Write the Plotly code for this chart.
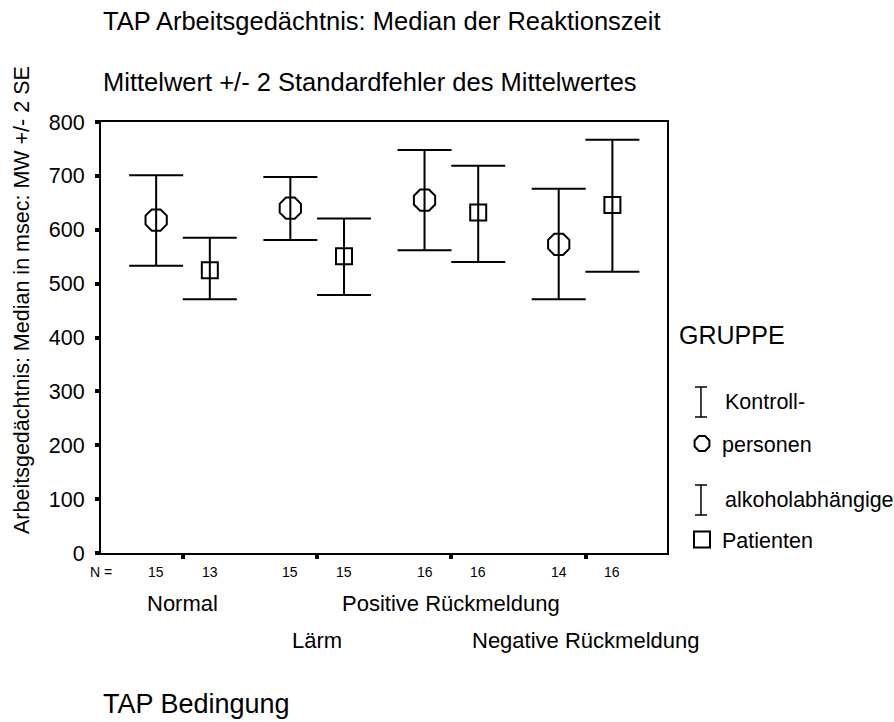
import plotly.graph_objects as go

# ---------------- data ----------------
categories = ["Normal", "Lärm", "Positive Rückmeldung", "Negative Rückmeldung"]
label_row = [1, 2, 1, 2]          # SPSS staggers the category labels

kontroll_mean = [618, 640, 655, 573]
kontroll_upper = [701, 698, 748, 676]
kontroll_lower = [533, 581, 562, 471]
n_kontroll = [15, 15, 16, 14]

patient_mean = [525, 551, 632, 646]
patient_upper = [585, 621, 719, 767]
patient_lower = [471, 479, 540, 522]
n_patient = [13, 15, 16, 16]

y_ticks = [0, 100, 200, 300, 400, 500, 600, 700, 800]

# ---------------- helpers ----------------
idx = list(range(len(categories)))
off = 0.2
xk = [i - off for i in idx]
xp = [i + off for i in idx]

FONT = "Liberation Sans, Arial, sans-serif"
BLACK = "black"


def err(upper, mean, lower):
    return dict(type="data", symmetric=False,
                array=[u - m for u, m in zip(upper, mean)],
                arrayminus=[m - l for m, l in zip(mean, lower)],
                color=BLACK, thickness=2, width=27)


fig = go.Figure()
fig.add_trace(go.Scatter(
    x=xk, y=kontroll_mean, mode="markers", name="personen", legendgroup="k",
    marker=dict(symbol="octagon-open", size=23, color=BLACK, line=dict(width=2, color=BLACK)),
    error_y=err(kontroll_upper, kontroll_mean, kontroll_lower)))
fig.add_trace(go.Scatter(
    x=xp, y=patient_mean, mode="markers", name="Patienten", legendgroup="p",
    marker=dict(symbol="square-open", size=16, color=BLACK, line=dict(width=2, color=BLACK)),
    error_y=err(patient_upper, patient_mean, patient_lower)))

annotations = []
# N row
annotations.append(dict(text="N =", x=0, xref="paper", y=-0.0441, yref="paper",
                        xanchor="center", yanchor="middle", showarrow=False,
                        font=dict(size=14, color=BLACK)))
for i in idx:
    annotations.append(dict(text=str(n_kontroll[i]), x=xk[i], xref="x", y=-0.0441, yref="paper",
                            xanchor="center", yanchor="middle", showarrow=False,
                            font=dict(size=14, color=BLACK)))
    annotations.append(dict(text=str(n_patient[i]), x=xp[i], xref="x", y=-0.0441, yref="paper",
                            xanchor="center", yanchor="middle", showarrow=False,
                            font=dict(size=14, color=BLACK)))
    annotations.append(dict(text=categories[i], x=i, xref="x",
                            y=-0.1183 if label_row[i] == 1 else -0.2019, yref="paper",
                            xanchor="center", yanchor="middle", showarrow=False,
                            font=dict(size=22, color=BLACK)))

# titles
annotations.append(dict(text="TAP Arbeitsgedächtnis: Median der Reaktionszeit", x=0, xref="paper",
                        y=1.2343, yref="paper", xanchor="left", yanchor="middle", showarrow=False,
                        font=dict(size=25.5, color=BLACK)))
annotations.append(dict(text="Mittelwert +/- 2 Standardfehler des Mittelwertes", x=0, xref="paper",
                        y=1.0917, yref="paper", xanchor="left", yanchor="middle", showarrow=False,
                        font=dict(size=25.5, color=BLACK)))
annotations.append(dict(text="TAP Bedingung", x=0, xref="paper",
                        y=-0.3503, yref="paper", xanchor="left", yanchor="middle", showarrow=False,
                        font=dict(size=27, color=BLACK)))
annotations.append(dict(text="Arbeitsgedächtnis: Median in msec: MW +/- 2 SE", x=-0.1396, xref="paper",
                        y=0.587, yref="paper", xanchor="center", yanchor="middle", showarrow=False,
                        textangle=-90, font=dict(size=21.5, color=BLACK)))

# legend texts
annotations.append(dict(text="GRUPPE", x=1.018, xref="paper", y=0.5058, yref="paper",
                        xanchor="left", yanchor="middle", showarrow=False,
                        font=dict(size=25, color=BLACK)))
annotations.append(dict(text="Kontroll-", x=1.099, xref="paper", y=0.3503, yref="paper",
                        xanchor="left", yanchor="middle", showarrow=False,
                        font=dict(size=21.5, color=BLACK)))
annotations.append(dict(text="alkoholabhängige", x=1.099, xref="paper", y=0.123, yref="paper",
                        xanchor="left", yanchor="middle", showarrow=False,
                        font=dict(size=21.5, color=BLACK)))

ibeam = "M -6,-15 L 6,-15 M 0,-15 L 0,15 M -6,15 L 6,15"
shapes = [
    dict(type="path", xref="paper", yref="paper", xsizemode="pixel", ysizemode="pixel",
         xanchor=1.060, yanchor=0.3503, path=ibeam, line=dict(color=BLACK, width=1.5)),
    dict(type="path", xref="paper", yref="paper", xsizemode="pixel", ysizemode="pixel",
         xanchor=1.060, yanchor=0.123, path=ibeam, line=dict(color=BLACK, width=1.5)),
]

fig.update_layout(
    width=894, height=722,
    margin=dict(l=101, r=227, t=122, b=169),
    paper_bgcolor="white", plot_bgcolor="white",
    font=dict(family=FONT, color=BLACK),
    showlegend=True,
    legend=dict(x=1.0265, xanchor="left", y=0.3016, yanchor="top",
                font=dict(size=21.5, color=BLACK), tracegroupgap=65,
                traceorder="grouped", bgcolor="rgba(0,0,0,0)"),
    annotations=annotations,
    shapes=shapes,
    xaxis=dict(range=[-0.611, 3.607], tickvals=idx, ticktext=["", "", "", ""],
               ticks="outside", ticklen=4, tickwidth=4, tickcolor=BLACK,
               showline=True, linewidth=2, linecolor=BLACK, mirror=True,
               showgrid=False, zeroline=False),
    yaxis=dict(range=[0, 800], tickvals=y_ticks,
               ticks="outside", ticklen=4, tickwidth=4, tickcolor=BLACK,
               showline=True, linewidth=2, linecolor=BLACK, mirror=True,
               showgrid=False, zeroline=False,
               tickfont=dict(size=21.5, color=BLACK), ticklabelstandoff=6),
)

fig.write_html("out.html")
